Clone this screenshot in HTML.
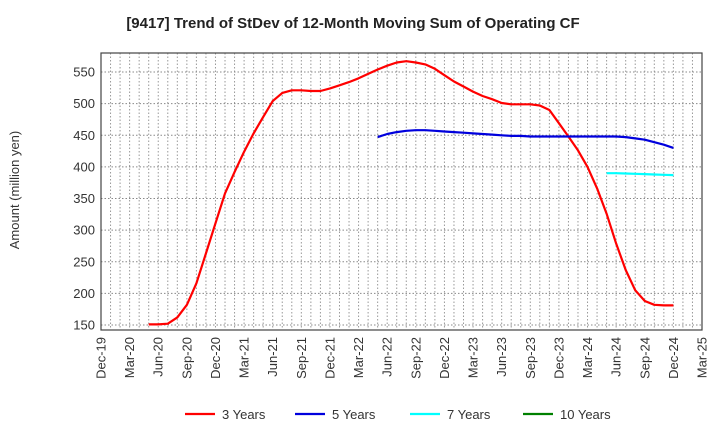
<!DOCTYPE html>
<html><head><meta charset="utf-8"><style>
body{margin:0;background:#fff;}
svg text{font-family:"Liberation Sans",sans-serif;}
</style></head><body>
<svg id="chart" width="720" height="440" xmlns="http://www.w3.org/2000/svg">
<text x="353" y="28" text-anchor="middle" font-size="15" font-weight="bold" fill="#222">[9417]  Trend of StDev of 12-Month Moving Sum of Operating CF</text>
<text transform="translate(19,190) rotate(-90)" text-anchor="middle" font-size="13" fill="#333">Amount (million yen)</text>
<g id="grid"></g>
<g id="axes"></g>
<g id="series"></g>
<g id="legend"></g>
</svg>
<script>
const xLabels=["Dec-19","Mar-20","Jun-20","Sep-20","Dec-20","Mar-21","Jun-21","Sep-21","Dec-21","Mar-22","Jun-22","Sep-22","Dec-22","Mar-23","Jun-23","Sep-23","Dec-23","Mar-24","Jun-24","Sep-24","Dec-24","Mar-25"];
const yTicks=[150,200,250,300,350,400,450,500,550];
const red3Start=5;
const red3=[151,151,152,162,182,216,263,311,358,392,424,453,479,504,517,521,521,520,520,524,529,534,540,547,554,560,565,567,565,562,555,545,535,527,519,512,507,501,499,499,499,497,490,469,448,426,400,366,326,279,237,205,188,182,181,181];
const blue5Start=29;
const blue5=[447,452,455,457,458,458,457,456,455,454,453,452,451,450,449,449,448,448,448,448,448,448,448,448,448,448,447,445,443,439,435,430];
const cyan7Start=53;
const cyan7=[390,390,389.5,389,388.5,388,387.5,387];
const green10=[];
const L=101,R=702,T=53,B=330;
const NM=63;
function xS(m){return L+(R-L)*m/NM;}
function yS(v){return 325-(v-150)*(253/400);}
const NS="http://www.w3.org/2000/svg";
function mk(t,a,p){const e=document.createElementNS(NS,t);for(const k in a)e.setAttribute(k,a[k]);p.appendChild(e);return e;}
const grid=document.getElementById('grid'),axes=document.getElementById('axes'),series=document.getElementById('series'),legend=document.getElementById('legend');
for(let m=1;m<NM;m++){const g=mk('line',{x1:xS(m),x2:xS(m),y1:T,y2:B,stroke:'#999','stroke-dasharray':'1.5,2','stroke-width':1},grid);

}
yTicks.forEach(v=>{const g=mk('line',{x1:L,x2:R,y1:yS(v),y2:yS(v),stroke:'#888','stroke-dasharray':'1.5,2','stroke-width':1},grid);


const t=mk('text',{x:L-6,y:yS(v)+4.5,'text-anchor':'end','font-size':13,fill:'#333'},axes);t.textContent=v;

});
xLabels.forEach((s,i)=>{const x=xS(i*3);const t=mk('text',{transform:`translate(${x+4.5},337) rotate(-90)`,'text-anchor':'end','font-size':13,fill:'#333'},axes);t.textContent=s;

});
const fr=mk('rect',{x:L,y:T,width:R-L,height:B-T,fill:'none',stroke:'#444','stroke-width':1.2},axes);


function line(arr,start,color,name){if(!arr.length)return;const pts=arr.map((v,i)=>xS(start+i).toFixed(1)+','+yS(v).toFixed(1)).join(' ');
const p=mk('polyline',{points:pts,fill:'none',stroke:color,'stroke-width':2.2,'stroke-linejoin':'round'},series);

}
line(red3,red3Start,'#ff0000','series-3-years');
line(blue5,blue5Start,'#0000dd','series-5-years');
line(cyan7,cyan7Start,'#00ffff','series-7-years');
line(green10,60,'#008000','series-10-years');
const leg=[["3 Years","#ff0000",185],["5 Years","#0000dd",295],["7 Years","#00ffff",410],["10 Years","#008000",523]];
leg.forEach(([n,c,x])=>{const g=mk('g',{},legend);


mk('line',{x1:x,x2:x+30,y1:414,y2:414,stroke:c,'stroke-width':2.2},g);
const t=mk('text',{x:x+37,y:419,'font-size':13,fill:'#333'},g);t.textContent=n;});
</script>
</body></html>
